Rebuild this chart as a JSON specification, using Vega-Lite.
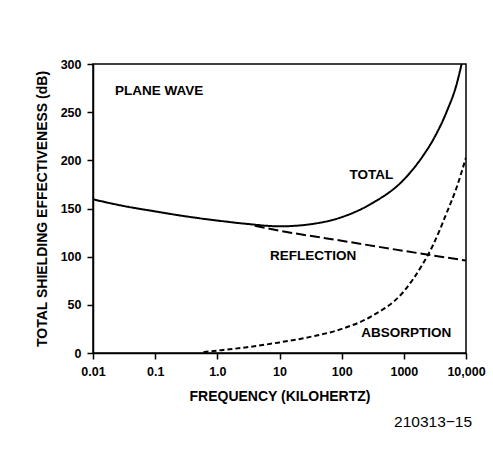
{
  "$schema": "https://vega.github.io/schema/vega-lite/v6.json",
  "width": 373,
  "height": 289,
  "autosize": {"type": "none"},
  "padding": {"left": 93, "top": 64, "right": 27, "bottom": 106},
  "background": "white",
  "config": {"view": {"stroke": "black", "strokeWidth": 1.5}, "font": "Liberation Sans"},
  "title": {"text": "210313−15", "orient": "bottom", "anchor": "end", "fontSize": 15.5, "fontWeight": "normal", "font": "Liberation Sans", "color": "black", "offset": 11, "dx": -13},
  "datasets": {
    "curves": [
      {"series": "TOTAL", "f": 0.01, "v": 159.5},
      {"series": "TOTAL", "f": 0.03, "v": 152.8},
      {"series": "TOTAL", "f": 0.1, "v": 147},
      {"series": "TOTAL", "f": 0.3, "v": 142},
      {"series": "TOTAL", "f": 1, "v": 137.5},
      {"series": "TOTAL", "f": 3, "v": 134},
      {"series": "TOTAL", "f": 10, "v": 131.5},
      {"series": "TOTAL", "f": 30, "v": 133.5},
      {"series": "TOTAL", "f": 100, "v": 141},
      {"series": "TOTAL", "f": 300, "v": 155},
      {"series": "TOTAL", "f": 1000, "v": 180},
      {"series": "TOTAL", "f": 2000, "v": 204},
      {"series": "TOTAL", "f": 3000, "v": 222},
      {"series": "TOTAL", "f": 5000, "v": 252},
      {"series": "TOTAL", "f": 7000, "v": 278},
      {"series": "TOTAL", "f": 8500, "v": 300},
      {"series": "REFLECTION", "f": 4, "v": 132},
      {"series": "REFLECTION", "f": 10, "v": 127},
      {"series": "REFLECTION", "f": 100, "v": 116.5},
      {"series": "REFLECTION", "f": 1000, "v": 106},
      {"series": "REFLECTION", "f": 10000, "v": 96},
      {"series": "ABSORPTION", "f": 0.6, "v": 1},
      {"series": "ABSORPTION", "f": 1, "v": 2.5},
      {"series": "ABSORPTION", "f": 3, "v": 6},
      {"series": "ABSORPTION", "f": 10, "v": 11},
      {"series": "ABSORPTION", "f": 30, "v": 16.5},
      {"series": "ABSORPTION", "f": 100, "v": 25},
      {"series": "ABSORPTION", "f": 300, "v": 38},
      {"series": "ABSORPTION", "f": 1000, "v": 64},
      {"series": "ABSORPTION", "f": 2000, "v": 92},
      {"series": "ABSORPTION", "f": 3000, "v": 113},
      {"series": "ABSORPTION", "f": 5000, "v": 147},
      {"series": "ABSORPTION", "f": 7000, "v": 171},
      {"series": "ABSORPTION", "f": 10000, "v": 203}
    ],
    "labels": [
      {"label": "PLANE WAVE", "f": 0.1153, "v": 272},
      {"label": "TOTAL", "f": 300, "v": 184.8},
      {"label": "REFLECTION", "f": 34.6, "v": 100.7},
      {"label": "ABSORPTION", "f": 1096, "v": 20.4}
    ]
  },
  "layer": [
    {
      "data": {"name": "curves"},
      "mark": {"type": "line", "interpolate": "monotone", "strokeWidth": 2, "color": "black", "clip": true},
      "encoding": {
        "x": {
          "field": "f", "type": "quantitative",
          "scale": {"type": "log", "domain": [0.01, 10000]},
          "axis": {
            "values": [0.01, 0.1, 1, 10, 100, 1000, 10000],
            "labelExpr": "datum.value == 0.01 ? '0.01' : datum.value == 0.1 ? '0.1' : datum.value == 1 ? '1.0' : datum.value == 10000 ? '10,000' : format(datum.value, 'd')",
            "title": "FREQUENCY (KILOHERTZ)",
            "grid": false, "tickSize": 6, "tickColor": "black", "tickWidth": 1.5,
            "domainColor": "black", "domainWidth": 1.5,
            "labelFont": "Liberation Sans", "labelFontWeight": "bold", "labelFontSize": 12.5, "labelColor": "black",
            "labelPadding": 6, "labelFlush": false, "labelOverlap": false,
            "titleFont": "Liberation Sans", "titleFontSize": 14, "titleFontWeight": "bold", "titleColor": "black", "titlePadding": 12
          }
        },
        "y": {
          "field": "v", "type": "quantitative",
          "scale": {"domain": [0, 300]},
          "axis": {
            "values": [0, 50, 100, 150, 200, 250, 300],
            "title": "TOTAL SHIELDING EFFECTIVENESS (dB)",
            "grid": false, "tickSize": 6, "tickColor": "black", "tickWidth": 1.5,
            "domainColor": "black", "domainWidth": 1.5,
            "labelFont": "Liberation Sans", "labelFontWeight": "bold", "labelFontSize": 12.5, "labelColor": "black",
            "labelPadding": 6, "labelFlush": false, "labelOverlap": false,
            "titleFont": "Liberation Sans", "titleFontSize": 14, "titleFontWeight": "bold", "titleColor": "black", "titlePadding": 11
          }
        },
        "detail": {"field": "series"},
        "strokeDash": {
          "field": "series", "type": "nominal",
          "scale": {"domain": ["TOTAL", "REFLECTION", "ABSORPTION"], "range": [[1, 0], [10, 4], [5, 3]]},
          "legend": null
        }
      }
    },
    {
      "data": {"name": "labels"},
      "mark": {"type": "text", "fontWeight": "bold", "fontSize": 13.5, "baseline": "middle", "align": "center", "color": "black", "font": "Liberation Sans"},
      "encoding": {
        "x": {"field": "f", "type": "quantitative"},
        "y": {"field": "v", "type": "quantitative"},
        "text": {"field": "label"}
      }
    }
  ]
}
